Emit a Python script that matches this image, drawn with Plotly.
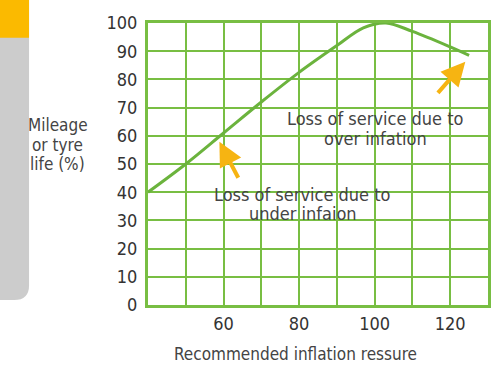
import plotly.graph_objects as go

# Tyre pressure vs. mileage curve
pressure = [40, 50, 60, 70, 80, 90, 97, 103, 110, 120, 125]
mileage = [40, 50, 61, 72, 82.5, 92, 98.3, 100, 97, 91.5, 88.5]

x_grid = list(range(40, 131, 10))
x_labels = ["" if v not in (60, 80, 100, 120) else str(v) for v in x_grid]
y_grid = list(range(0, 101, 10))
y_labels = [str(v) for v in y_grid]

# Arrow annotations: (head x, head y, tail x, tail y)
arrow_under = (58.9, 57.9, 64.1, 44.6)
arrow_over = (124.0, 86.3, 116.4, 74.7)

# Text lines of each label block
over_lines = ["Loss of service due to", "over infation"]
under_lines = ["Loss of service due to", "under infaion"]
y_title_lines = ["Mileage", "or tyre", "life (%)"]

GREEN = "#78BE43"
LINE_GREEN = "#6BB33D"
ORANGE = "#F6B412"
TEXT = "#444444"
FONT = "Liberation Sans Narrow, DejaVu Sans Condensed, Roboto, sans-serif"

W, H = 503, 366
L, R, T, B = 148, 12, 20, 61
pw, ph = W - L - R, H - T - B


def px(xp):
    return (xp - L) / pw


def py(yp):
    return (H - B - yp) / ph


fig = go.Figure()
fig.add_trace(go.Scatter(
    x=pressure, y=mileage, mode="lines",
    line=dict(color=LINE_GREEN, width=3, shape="spline", smoothing=1.0),
    hoverinfo="skip", showlegend=False,
))

# side panel with rounded lower corner and accent strip
r = 15
panel = (f"M {px(-5)},{py(-5)} L {px(28)},{py(-5)} L {px(28)},{py(300 - r)} "
         f"Q {px(28)},{py(300)} {px(28 - r)},{py(300)} L {px(-5)},{py(300)} Z")
shapes = [
    dict(type="path", path=panel, xref="paper", yref="paper",
         fillcolor="#CCCCCC", line=dict(width=0), layer="below"),
    dict(type="rect", xref="paper", yref="paper", x0=px(-5), x1=px(28),
         y0=py(35), y1=py(-5), fillcolor="#FBBA00", line=dict(width=0), layer="below"),
]

annotations = []
for hx, hy, tx, ty in (arrow_under, arrow_over):
    annotations.append(dict(
        x=hx, y=hy, ax=tx, ay=ty, xref="x", yref="y", axref="x", ayref="y",
        showarrow=True, arrowhead=2, arrowsize=1.2, arrowwidth=4,
        arrowcolor=ORANGE, text="",
    ))


def text_block(lines, cx, cy, size, step):
    out = []
    for i, line in enumerate(lines):
        out.append(dict(
            x=px(cx), y=py(cy + i * step), xref="paper", yref="paper",
            xanchor="center", yanchor="middle", showarrow=False, text=line,
            font=dict(family=FONT, size=size, color=TEXT),
        ))
    return out


annotations += text_block(over_lines, 378, 117, 18, 20)
annotations += text_block(under_lines, 304, 193, 18, 20)
annotations += text_block(y_title_lines, 57, 123, 17, 20)
annotations += text_block(["Recommended inflation ressure"], 297, 355, 17, 20)

axis_common = dict(
    showgrid=True, gridcolor=GREEN, gridwidth=2,
    showline=True, linecolor=GREEN, linewidth=3, mirror=True,
    zeroline=False, ticks="", tickfont=dict(family=FONT, size=18, color="#333333"),
    tickmode="array", fixedrange=True,
)

fig.update_layout(
    width=W, height=H,
    margin=dict(l=L, r=R, t=T, b=B),
    paper_bgcolor="white", plot_bgcolor="white",
    xaxis=dict(range=[40, 130], tickvals=x_grid, ticktext=x_labels,
               ticklabelstandoff=0, **axis_common),
    yaxis=dict(range=[0, 100], tickvals=y_grid, ticktext=y_labels,
               ticklabelstandoff=4, **axis_common),
    shapes=shapes,
    annotations=annotations,
)

fig.write_html("out.html")
